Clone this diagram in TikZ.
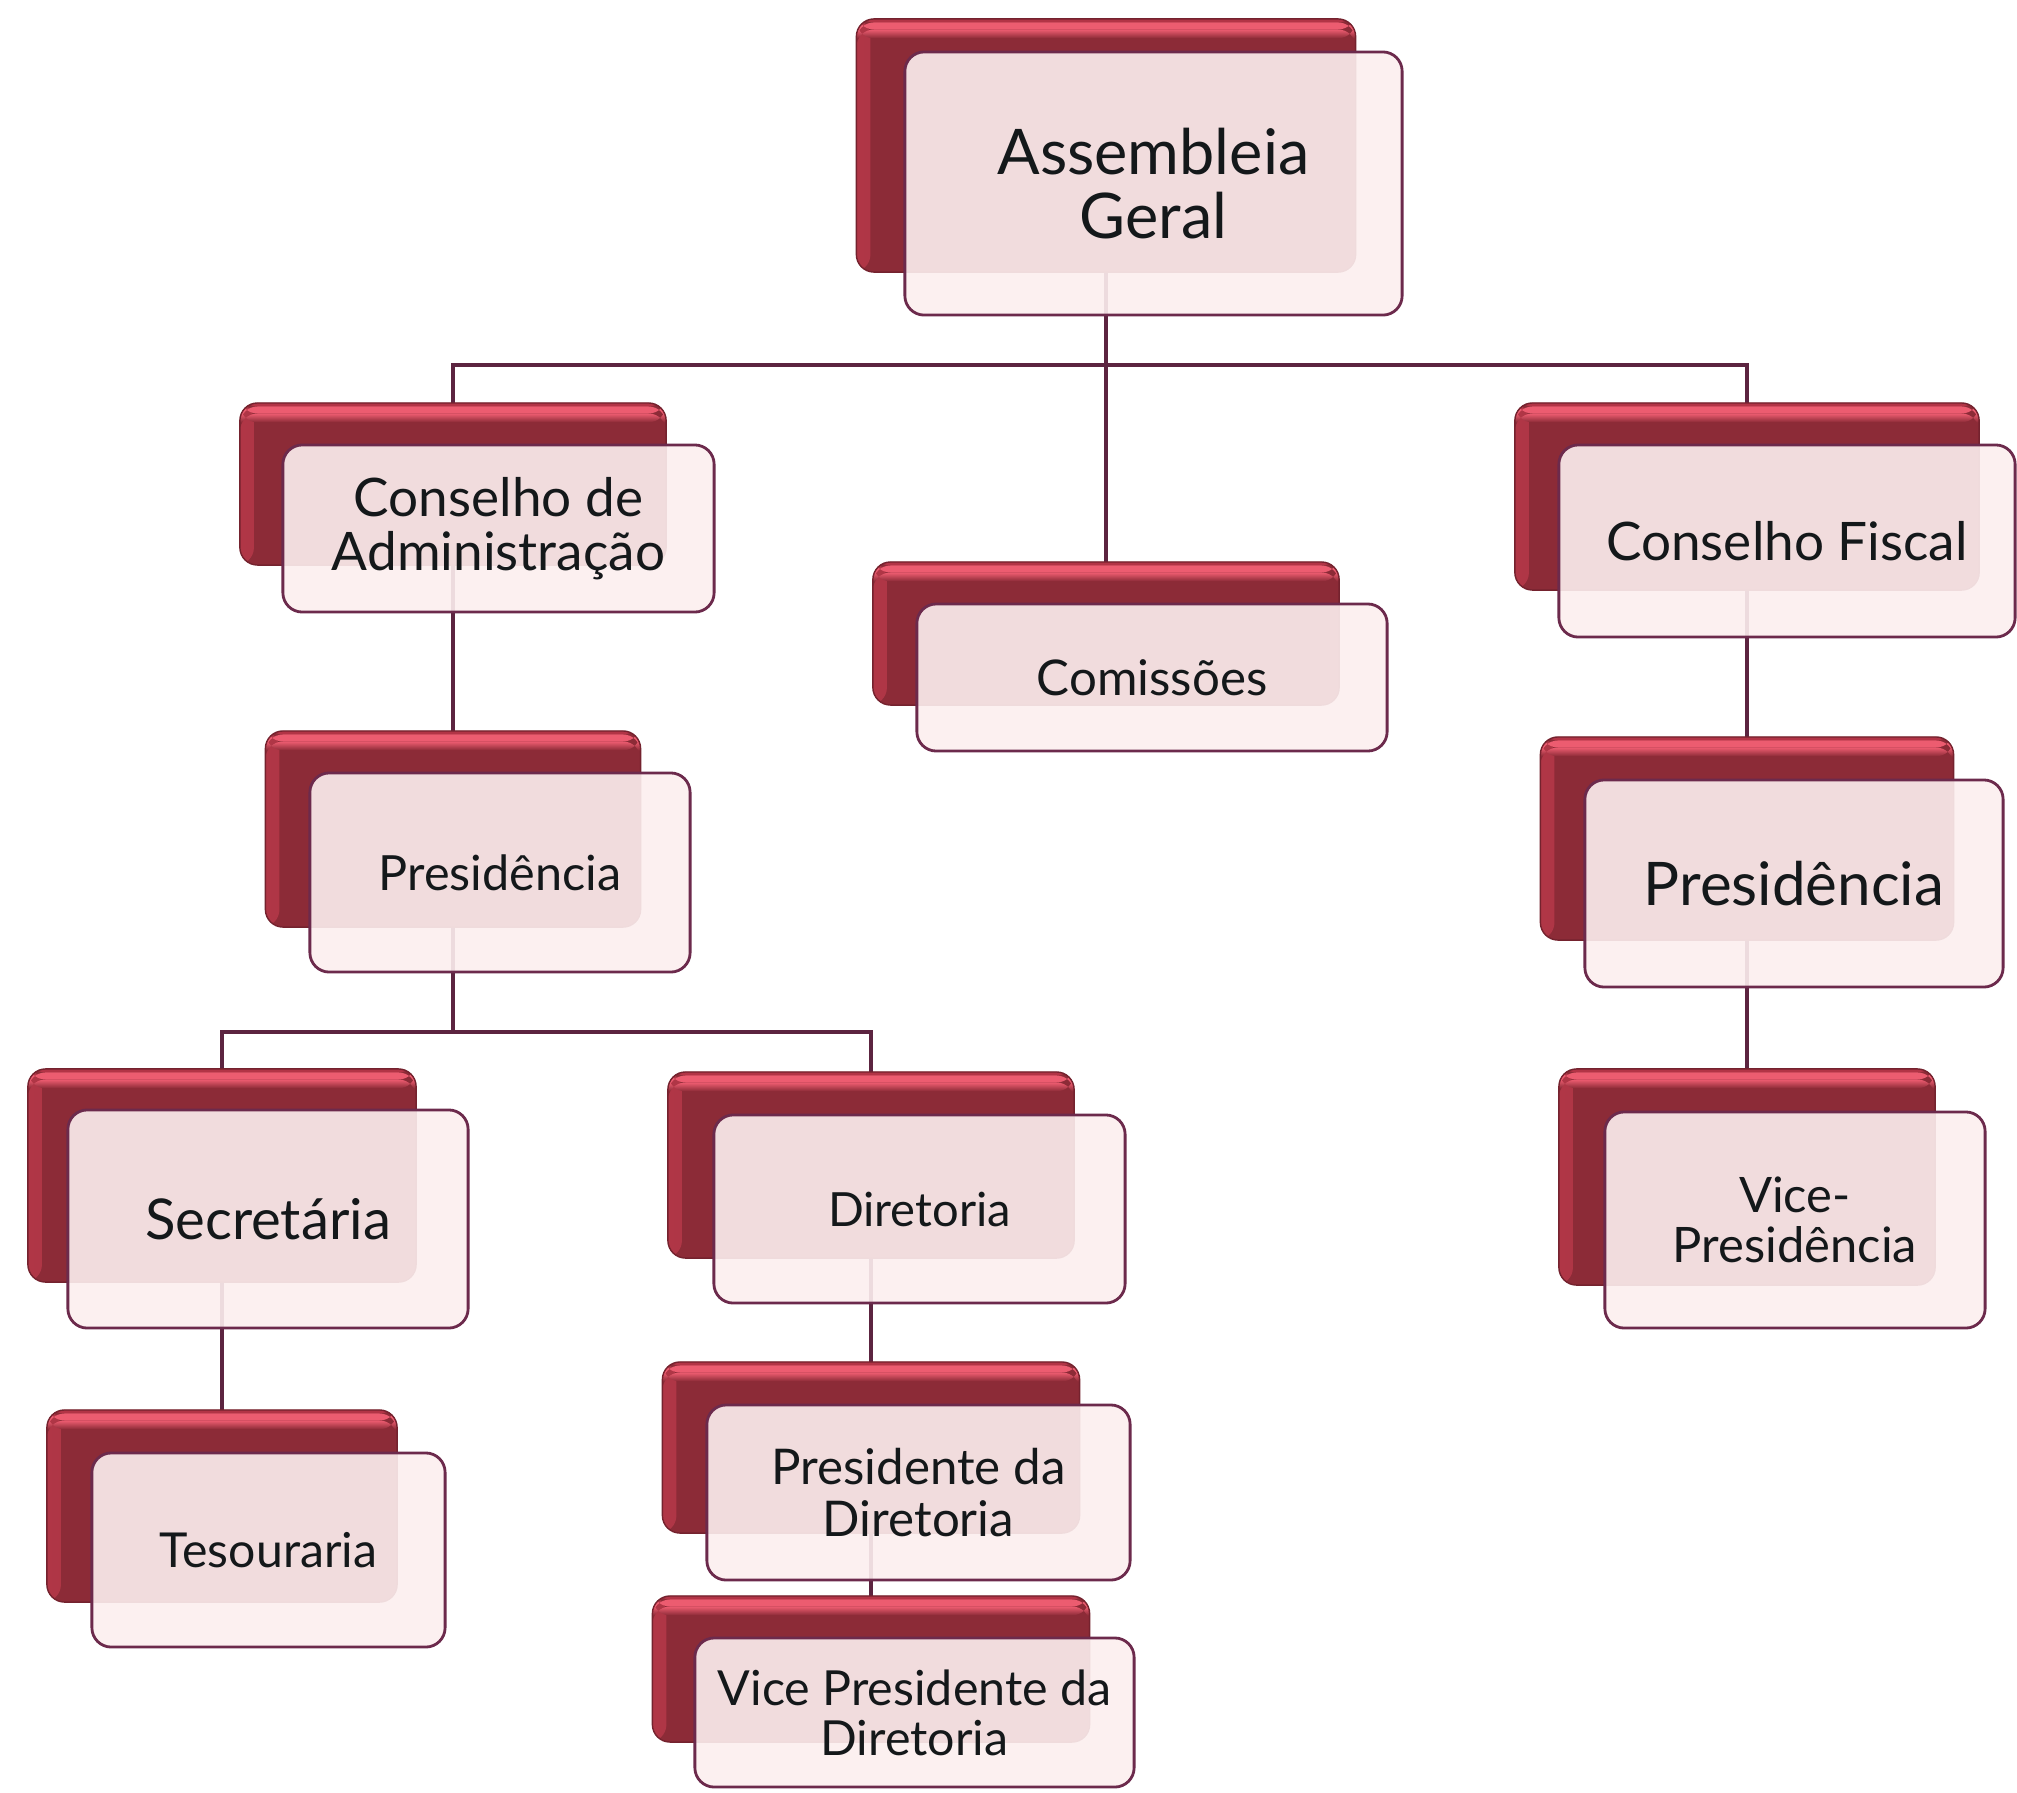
\documentclass[tikz,border=0pt]{standalone}
\usepackage{fontspec}
\setmainfont{Lato}
\usepackage{xcolor}
\usetikzlibrary{positioning, backgrounds}

\definecolor{backred}{RGB}{140,43,55}
\definecolor{glossred}{RGB}{236,92,112}
\definecolor{topred}{RGB}{178,52,70}
\definecolor{sidered}{RGB}{176,54,70}
\definecolor{edgered}{RGB}{116,34,46}
\definecolor{frontfill}{RGB}{252,238,238}
\definecolor{frontline}{RGB}{108,42,76}
\definecolor{linkcol}{RGB}{92,36,64}
\definecolor{txt}{RGB}{20,24,26}

\tikzset{
  backbox/.style={draw=edgered, line width=.4pt, fill=backred, rounded corners=5pt,
    inner sep=0pt, outer sep=0pt,
    path picture={
      \shade[left color=sidered, right color=backred]
        (path picture bounding box.north west) rectangle ([xshift=4pt]path picture bounding box.south west);
      \fill[topred]
        (path picture bounding box.north west) rectangle ([yshift=-1pt]path picture bounding box.north east);
      \fill[glossred]
        ([yshift=-1pt]path picture bounding box.north west) rectangle ([yshift=-3pt]path picture bounding box.north east);
      \shade[top color=glossred, bottom color=backred]
        ([yshift=-3pt]path picture bounding box.north west) rectangle ([yshift=-5.5pt]path picture bounding box.north east);
    }},
  frontbox/.style={draw=frontline, line width=.8pt, fill=frontfill, fill opacity=.91,
    text opacity=1, rounded corners=5.5pt, inner sep=0pt, outer sep=0pt,
    align=center, text=txt},
  link/.style={draw=linkcol, line width=1pt},
}

\begin{document}
\begin{tikzpicture}[x=0.01cm, y=-0.01cm]
    \useasboundingbox (0,0) rectangle (2017,1793);

    % Assembleia Geral
    \node[backbox, minimum width=4.99cm, minimum height=2.53cm] (ag) at (1106,145.5) {};
    \node[frontbox, minimum width=4.97cm, minimum height=2.63cm, font=\fontsize{17.9}{18}\selectfont] (agT) at (1153.5,183.5) {Assembleia\\Geral};

    % Conselho de Administracao
    \node[backbox, minimum width=4.26cm, minimum height=1.62cm] (cadm) at (453,484) {};
    \node[frontbox, minimum width=4.31cm, minimum height=1.67cm, font=\fontsize{15.1}{15.4}\selectfont] (cadmT) at (498.5,528.5) {Conselho de\\Administração};

    % Comissoes
    \node[backbox, minimum width=4.66cm, minimum height=1.43cm] (com) at (1106,633.5) {};
    \node[frontbox, minimum width=4.70cm, minimum height=1.47cm, font=\fontsize{14}{16}\selectfont] (comT) at (1152,677.5) {Comissões};

    % Conselho Fiscal
    \node[backbox, minimum width=4.64cm, minimum height=1.87cm] (cfis) at (1747,496.5) {};
    \node[frontbox, minimum width=4.56cm, minimum height=1.92cm, font=\fontsize{15.1}{15.4}\selectfont] (cfisT) at (1787,541) {Conselho Fiscal};

    % Presidencia (administracao)
    \node[backbox, minimum width=3.75cm, minimum height=1.96cm] (presA) at (453,829) {};
    \node[frontbox, minimum width=3.80cm, minimum height=1.99cm, font=\fontsize{13.8}{15}\selectfont] (presAT) at (500,872.5) {Presidência};

    % Presidencia (fiscal)
    \node[backbox, minimum width=4.13cm, minimum height=2.03cm] (presF) at (1747,838.5) {};
    \node[frontbox, minimum width=4.18cm, minimum height=2.07cm, font=\fontsize{17.1}{19}\selectfont] (presFT) at (1794,883.5) {Presidência};

    % Secretaria
    \node[backbox, minimum width=3.88cm, minimum height=2.13cm] (sec) at (222,1175.5) {};
    \node[frontbox, minimum width=4.00cm, minimum height=2.18cm, font=\fontsize{16}{16}\selectfont] (secT) at (268,1219) {Secretária};

    % Diretoria
    \node[backbox, minimum width=4.06cm, minimum height=1.86cm] (dir) at (871,1165) {};
    \node[frontbox, minimum width=4.11cm, minimum height=1.88cm, font=\fontsize{13.4}{15}\selectfont] (dirT) at (919.5,1209) {Diretoria};

    % Vice-Presidencia
    \node[backbox, minimum width=3.76cm, minimum height=2.16cm] (vpres) at (1747,1177) {};
    \node[frontbox, minimum width=3.80cm, minimum height=2.16cm, font=\fontsize{13.9}{14.2}\selectfont] (vpresT) at (1795,1220) {Vice-\\Presidência};

    % Tesouraria
    \node[backbox, minimum width=3.50cm, minimum height=1.92cm] (tes) at (222,1506) {};
    \node[frontbox, minimum width=3.53cm, minimum height=1.94cm, font=\fontsize{13.7}{15}\selectfont] (tesT) at (268.5,1550) {Tesouraria};

    % Presidente da Diretoria
    \node[backbox, minimum width=4.17cm, minimum height=1.71cm] (pdir) at (871,1447.5) {};
    \node[frontbox, minimum width=4.23cm, minimum height=1.75cm, font=\fontsize{14}{14.8}\selectfont] (pdirT) at (918.5,1492.5) {Presidente da\\Diretoria};

    % Vice Presidente da Diretoria
    \node[backbox, minimum width=4.37cm, minimum height=1.46cm] (vpdir) at (871,1669) {};
    \node[frontbox, minimum width=4.39cm, minimum height=1.49cm, font=\fontsize{13.75}{14.2}\selectfont] (vpdirT) at (914.5,1712.5) {Vice Presidente da\\Diretoria};

    % connectors
    \coordinate (busA) at (1106,365);
    \coordinate (busB) at (453,1032);
    \begin{scope}[on background layer]
        \draw[link] (ag.south) -- (busA) -| (cadm.north);
        \draw[link] (busA) -| (cfis.north);
        \draw[link] (busA) -- (com.north);
        \draw[link] (cadm.south) -- (presA.north);
        \draw[link] (presA.south) -- (busB) -| (sec.north);
        \draw[link] (busB) -| (dir.north);
        \draw[link] (sec.south) -- (tes.north);
        \draw[link] (dir.south) -- (pdir.north);
        \draw[link] (pdir.south) -- (vpdir.north);
        \draw[link] (cfis.south) -- (presF.north);
        \draw[link] (presF.south) -- (vpres.north);
    \end{scope}
\end{tikzpicture}
\end{document}
